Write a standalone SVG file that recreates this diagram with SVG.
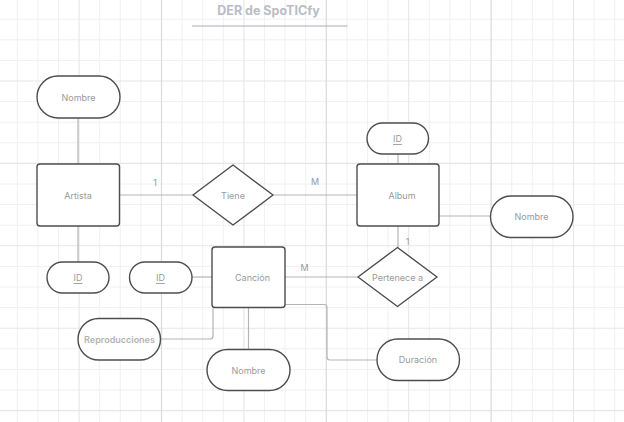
<svg xmlns="http://www.w3.org/2000/svg" width="624" height="422" viewBox="0 0 624 422">
<style>
.g1{stroke:#f0f0f0;stroke-width:1;fill:none}
.g2{stroke:#e6e6e6;stroke-width:1.1;fill:none}
.g3{stroke:#dcdcdc;stroke-width:1.3;fill:none}
.n{fill:#ffffff;stroke:#4d4d4d;stroke-width:1.4;stroke-linejoin:round}
.t{font-family:Inter,"Liberation Sans",sans-serif;font-size:9px;fill:#9a9a9a;text-anchor:middle;dominant-baseline:central}
.u{text-decoration:underline}
.c{stroke:#b5b5b5;stroke-width:1.2;fill:none}
.l{font-family:Inter,"Liberation Sans",sans-serif;font-size:9px;fill:#9a9a9a;text-anchor:middle;dominant-baseline:central}
</style>
<rect width="624" height="422" fill="#ffffff"/>
<g id="grid">
<path class="g1" d="M17.3,0V422M37.9,0V422M58.5,0V422M99.7,0V422M120.3,0V422M140.9,0V422M182.1,0V422M202.7,0V422M223.3,0V422M264.5,0V422M285.1,0V422M305.7,0V422M346.9,0V422M367.5,0V422M388.1,0V422M429.3,0V422M449.9,0V422M470.5,0V422M511.7,0V422M532.3,0V422M552.9,0V422M594.1,0V422M614.7,0V422M0,19.2H624M0,39.8H624M0,60.4H624M0,101.6H624M0,122.2H624M0,142.8H624M0,184H624M0,204.6H624M0,225.2H624M0,266.4H624M0,287H624M0,307.6H624M0,348.8H624M0,369.4H624M0,390H624"/>
<path class="g2" d="M79.1,0V422M243.9,0V422M408.7,0V422M573.5,0V422M0,81H624M0,163.4H624M0,245.8H624M0,328.2H624M0,410.6H624"/>
<path class="g3" d="M161.5,0V422M326.3,0V422M491.1,0V422"/>
</g>
<g id="title">
<text x="268.5" y="10.5" font-family="Inter,'Liberation Sans',sans-serif" font-size="12.5" font-weight="700" fill="#b9bdc6" text-anchor="middle" dominant-baseline="central">DER de SpoTICfy</text>
<line x1="192" y1="26" x2="347.5" y2="26" stroke="#a9aeb6" stroke-width="1"/>
</g>
<g id="connectors">
<path class="c" d="M78,118V164"/>
<path class="c" d="M78,226V262"/>
<path class="c" d="M119.5,195H193"/>
<path class="c" d="M273,195H357"/>
<path class="c" d="M398,154V164"/>
<path class="c" d="M439,216H490.5"/>
<path class="c" d="M398,226V247.5"/>
<path class="c" d="M285,277H358"/>
<path class="c" d="M192,277H212"/>
<path class="c" d="M160.5,339H210Q213,339 213,336V307.5"/>
<path class="c" d="M248.5,307.5V349.5"/>
<path class="c" d="M285,304.5H324Q327,304.5 327,307.5V357Q327,360 330,360H377"/>
<text class="l" x="155" y="182">1</text>
<text class="l" x="315" y="181">M</text>
<text class="l" x="407.5" y="241">1</text>
<text class="l" x="304.5" y="267.5">M</text>
</g>
<g id="artista-nombre"><rect class="n" x="37" y="76" width="83" height="42" rx="21"/><text class="t" x="78.5" y="97">Nombre</text></g>
<g id="artista"><rect class="n" x="37" y="164" width="82.5" height="62" rx="3"/><text class="t" x="78" y="195">Artista</text></g>
<g id="artista-id"><rect class="n" x="47" y="262" width="62" height="31" rx="15.5"/><text class="t u" x="78" y="277.5">ID</text></g>
<g id="tiene"><polygon class="n" points="193,195 233,165 273,195 233,225"/><text class="t" x="233" y="195">Tiene</text></g>
<g id="album-id"><rect class="n" x="367" y="123" width="61.5" height="31" rx="15.5"/><text class="t u" x="397.5" y="138.5">ID</text></g>
<g id="album"><rect class="n" x="357" y="164" width="82" height="62" rx="3"/><text class="t" x="402" y="195">Album</text></g>
<g id="album-nombre"><rect class="n" x="490.5" y="196" width="82.5" height="41.5" rx="20.75"/><text class="t" x="531.5" y="216.5">Nombre</text></g>
<g id="pertenece"><polygon class="n" points="358,277 397.5,247.5 437,277 397.5,306.5"/><text class="t" x="397.5" y="277">Pertenece a</text></g>
<g id="cancion-id"><rect class="n" x="129.5" y="262" width="62.5" height="31" rx="15.5"/><text class="t u" x="160.5" y="277.5">ID</text></g>
<g id="cancion"><rect class="n" x="212" y="247" width="73" height="60.5" rx="3"/><text class="t" x="252.5" y="277">Canción</text></g>
<g id="reproducciones"><rect class="n" x="78" y="318.5" width="82.5" height="41.5" rx="20.75"/><text class="t" x="119.5" y="339.5" font-weight="600" style="fill:#b3b3b3">Reproducciones</text></g>
<g id="cancion-nombre"><rect class="n" x="207" y="349.5" width="83" height="41" rx="20.5"/><text class="t" x="248.5" y="370">Nombre</text></g>
<g id="duracion"><rect class="n" x="377" y="339" width="82.5" height="41.5" rx="20.75"/><text class="t" x="418" y="359.5">Duración</text></g>
</svg>
